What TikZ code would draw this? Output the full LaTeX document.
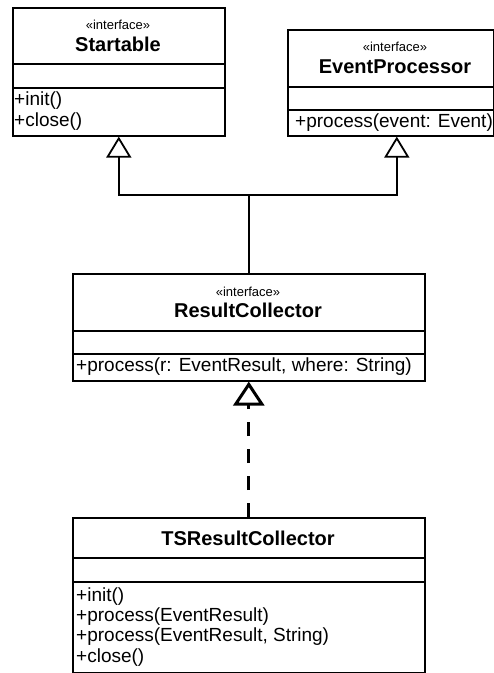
\documentclass[tikz,border=0pt]{standalone}
\usepackage{fontspec}
\setmainfont{Liberation Sans}
\usetikzlibrary{arrows.meta}

\tikzset{
  classbox/.style={draw, line width=1.6pt, anchor=north west, inner sep=0pt},
  divider/.style={line width=1.6pt},
  stereo/.style={font=\fontsize{13}{15}\selectfont, inner sep=0pt},
  cname/.style={font=\bfseries\fontsize{20}{24}\selectfont, inner sep=0pt},
  member/.style={font=\fontsize{19}{22}\selectfont, inner sep=0pt, anchor=west},
  gen/.style={line width=1.8pt,
    -{Triangle[open, length=21pt, width=25pt, line width=1.8pt]}},
  realize/.style={line width=3pt, dash pattern=on 14pt off 13pt,
    -{Triangle[open, length=24pt, width=31pt, line width=3pt]}},
}

\begin{document}
\begin{tikzpicture}[x=1pt, y=-1pt]
\useasboundingbox (0,0) rectangle (494,673);

% Startable
\node[classbox, minimum width=212pt, minimum height=128pt] (st) at (12,7) {};
\draw[divider] ([yshift=-57pt]st.north west) -- ([yshift=-57pt]st.north east);
\draw[divider] ([yshift=-81pt]st.north west) -- ([yshift=-81pt]st.north east);
\node[stereo] (stS) at (118,25) {«interface»};
\node[cname]  (stN) at (118,44) {Startable};
\node[member] (stM1) at (14,101) {+init()};
\node[member] (stM2) at (14,122) {+close()};

% EventProcessor
\node[classbox, minimum width=206pt, minimum height=106pt] (ep) at (287,29) {};
\draw[divider] ([yshift=-58pt]ep.north west) -- ([yshift=-58pt]ep.north east);
\draw[divider] ([yshift=-81pt]ep.north west) -- ([yshift=-81pt]ep.north east);
\node[stereo] (epS) at (395,47) {«interface»};
\node[cname]  (epN) at (395,67) {EventProcessor};
\node[member] (epM1) at (295,123) {+process(event: Event)};

% ResultCollector
\node[classbox, minimum width=352pt, minimum height=107pt] (rc) at (72,273) {};
\draw[divider] ([yshift=-58pt]rc.north west) -- ([yshift=-58pt]rc.north east);
\draw[divider] ([yshift=-81pt]rc.north west) -- ([yshift=-81pt]rc.north east);
\node[stereo] (rcS) at (248,292) {«interface»};
\node[cname]  (rcN) at (248,310) {ResultCollector};
\node[member] (rcM1) at (76,367) {+process(r: EventResult, where: String)};

% TSResultCollector
\node[classbox, minimum width=352pt, minimum height=155pt] (ts) at (72,517) {};
\draw[divider] ([yshift=-41pt]ts.north west) -- ([yshift=-41pt]ts.north east);
\draw[divider] ([yshift=-65pt]ts.north west) -- ([yshift=-65pt]ts.north east);
\node[cname]  (tsN) at (248,538) {TSResultCollector};
\node[member] (tsM1) at (76,597) {+init()};
\node[member] (tsM2) at (76,617) {+process(EventResult)};
\node[member] (tsM3) at (76,637) {+process(EventResult, String)};
\node[member] (tsM4) at (76,658) {+close()};

% generalisation from ResultCollector to both parents
\coordinate (join) at (rc.north |- 0,195);
\draw[gen] (rc.north) -- (join) -| (st.south);
\draw[gen] (join) -| ([xshift=6pt]ep.south);

% realisation of ResultCollector by TSResultCollector
\draw[realize] (ts.north) -- (rc.south);
\end{tikzpicture}
\end{document}
